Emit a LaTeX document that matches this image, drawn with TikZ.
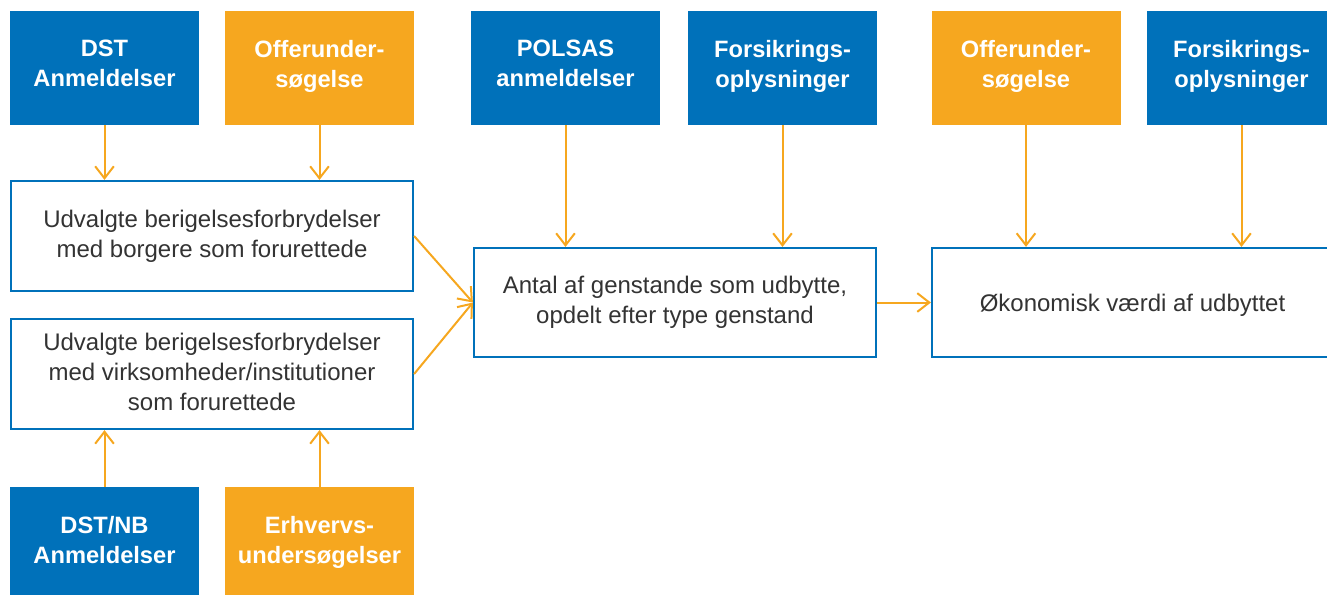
\documentclass[tikz,border=0pt]{standalone}
\usepackage{fontspec}
\setmainfont{Liberation Sans}
\usetikzlibrary{arrows.meta}
\definecolor{cblue}{HTML}{0071BA}
\definecolor{corange}{HTML}{F6A71F}
\definecolor{ctext}{HTML}{333333}
\tikzset{
  srcbox/.style={fill=#1, draw=none, text=white, minimum width=141.75pt, minimum height=85.5pt,
    inner sep=0pt, align=center, font=\fontsize{17.75}{22.5}\selectfont\bfseries,
    execute at begin node=\strut, execute at end node=\strut},
  stepbox/.style={draw=cblue, line width=1.65pt, fill=white, text=ctext, minimum width=301.5pt,
    minimum height=82.5pt, inner sep=0pt, align=center, font=\fontsize{18}{22.5}\selectfont,
    execute at begin node={\rule{0pt}{17pt}}, execute at end node={\rule[-3.5pt]{0pt}{3.5pt}}},
  flow/.style={draw=corange, line width=1.5pt, -{Straight Barb[length=9pt,width=14pt]}}
}
\begin{document}
\begin{tikzpicture}[x=0.75pt,y=-0.75pt]
\useasboundingbox (0,0) rectangle (1327,594);
\clip (0,0) rectangle (1327,594);
% source boxes top
\node[srcbox=cblue]   (dst)    at (104.5,68)  {DST\\Anmeldelser};
\node[srcbox=corange] (offer1) at (319.5,68)  {Offerunder-\\søgelse};
\node[srcbox=cblue]   (polsas) at (565.5,68)  {POLSAS\\anmeldelser};
\node[srcbox=cblue]   (fors1)  at (782.5,68)  {Forsikrings-\\oplysninger};
\node[srcbox=corange] (offer2) at (1026,68)   {Offerunder-\\søgelse};
\node[srcbox=cblue]   (fors2)  at (1241.5,68) {Forsikrings-\\oplysninger};
% source boxes bottom
\node[srcbox=cblue]   (dstnb)  at (104.5,544) {DST/NB\\Anmeldelser};
\node[srcbox=corange] (erhv)   at (319.5,544) {Erhvervs-\\undersøgelser};
% process boxes
\node[stepbox] (box1) at (212,236) {Udvalgte berigelsesforbrydelser\\med borgere som forurettede};
\node[stepbox] (box2) at (212,374) {Udvalgte berigelsesforbrydelser\\med virksomheder/institutioner\\som forurettede};
\node[stepbox, minimum height=81.75pt] (mid) at (675,302.5) {Antal af genstande som udbytte,\\opdelt efter type genstand};
\node[stepbox, minimum height=81.75pt, minimum width=300.75pt] (res) at (1132.5,302.5) {Økonomisk værdi af udbyttet};
% connectors
\draw[flow] (dst.south) -- (dst.south |- box1.north);
\draw[flow] (offer1.south) -- (offer1.south |- box1.north);
\draw[flow] (dstnb.north) -- (dstnb.north |- box2.south);
\draw[flow] (erhv.north) -- (erhv.north |- box2.south);
\draw[flow] (box1.east) -- (mid.west);
\draw[flow] (box2.east) -- (mid.west);
\draw[flow] (polsas.south) -- (polsas.south |- mid.north);
\draw[flow] (fors1.south) -- (fors1.south |- mid.north);
\draw[flow] (mid.east) -- (res.west);
\draw[flow] (offer2.south) -- (offer2.south |- res.north);
\draw[flow] (fors2.south) -- (fors2.south |- res.north);
\end{tikzpicture}
\end{document}
